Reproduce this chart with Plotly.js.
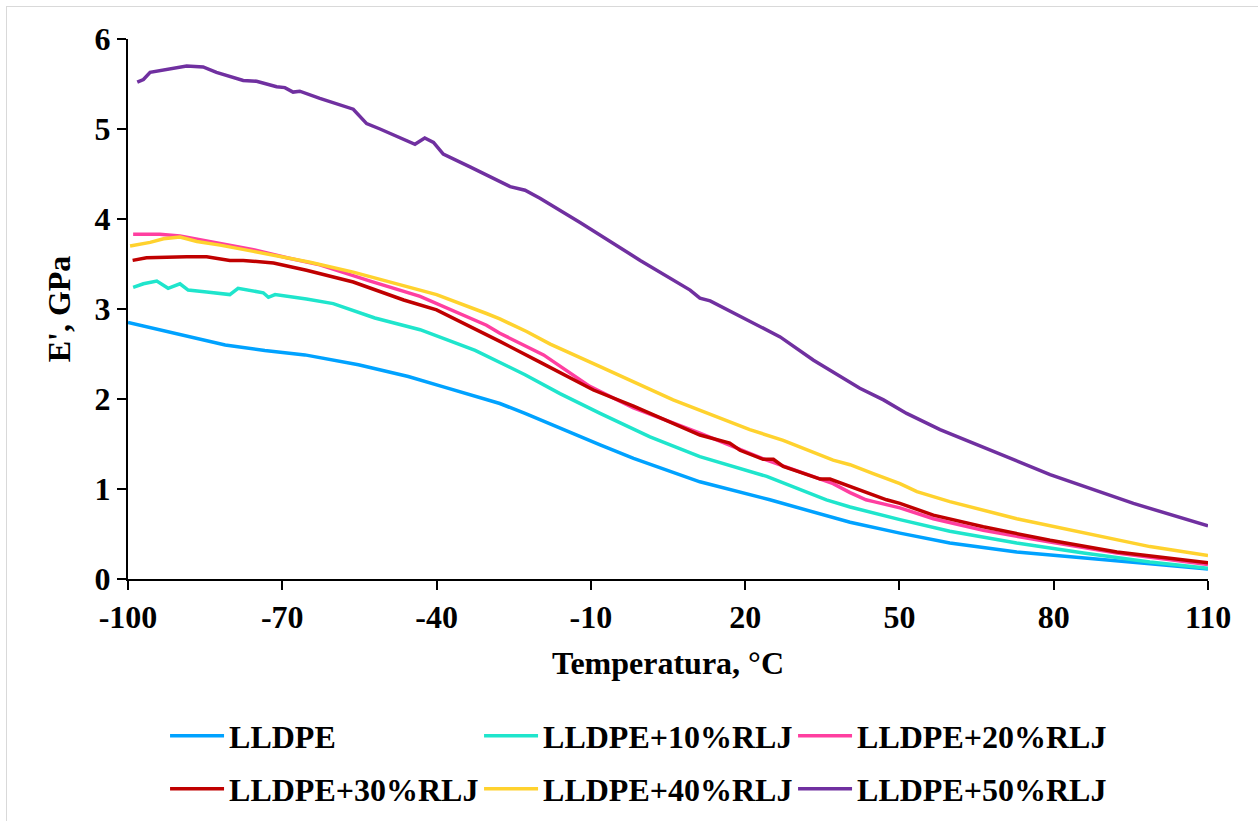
<!DOCTYPE html>
<html>
<head>
<meta charset="utf-8">
<script src="https://cdn.plot.ly/plotly-3.0.1.min.js"></script>
<style>
html,body{margin:0;padding:0;background:#fff;overflow:hidden;}
#chart{width:1258px;height:821px;}
#frame{position:absolute;left:6px;top:6px;width:1300px;height:900px;border:1.5px solid #d9d9d9;pointer-events:none;}
</style>
</head>
<body>
<div id="chart"></div>
<div id="frame"></div>
<script>
// ---- data ----
const seriesNames = ["LLDPE","LLDPE+10%RLJ","LLDPE+20%RLJ","LLDPE+30%RLJ","LLDPE+40%RLJ","LLDPE+50%RLJ"];

const x0 = [-100,-94.1,-88.9,-81.1,-73.4,-65.6,-55.2,-45.5,-39,-32.5,-27.7,-22.8,-14.7,-8.2,-1.7,11.2,24.8,40.4,50.1,59.8,72.8,85.8,98.7,110];
const y0 = [2.85,2.77,2.70,2.60,2.54,2.49,2.38,2.25,2.14,2.03,1.95,1.84,1.64,1.49,1.34,1.08,0.88,0.63,0.51,0.40,0.30,0.23,0.17,0.11];

const x10 = [-99,-97,-94.4,-92.2,-89.9,-88.3,-84.7,-80.2,-78.6,-73.7,-72.7,-71.4,-65.3,-60.1,-52,-43.2,-32.5,-22.8,-16,-8.2,1.5,11.2,24.2,35.8,40.4,50.1,59.8,72.8,85.8,98.7,110];
const y10 = [3.24,3.28,3.31,3.23,3.28,3.21,3.19,3.16,3.23,3.18,3.13,3.16,3.11,3.06,2.90,2.77,2.54,2.27,2.06,1.84,1.58,1.36,1.14,0.88,0.80,0.66,0.53,0.40,0.29,0.19,0.12];

const x20 = [-99,-93.8,-89.9,-84.1,-75.6,-69.1,-62.7,-52.9,-43.2,-30.3,-27.7,-19.2,-10.2,-1.7,11.2,24.2,37.1,40.4,42.3,43.5,45,50.1,56.6,66.3,79.3,92.3,110];
const y20 = [3.83,3.83,3.81,3.75,3.66,3.57,3.49,3.31,3.14,2.82,2.73,2.49,2.14,1.90,1.62,1.32,1.06,0.96,0.91,0.88,0.86,0.79,0.67,0.54,0.41,0.29,0.16];

const x30 = [-99.1,-96.4,-88.6,-84.7,-80.2,-77.6,-71.7,-65.3,-56.2,-46.4,-40,-32.2,-27.7,-19.9,-9.5,-1.7,11.2,17,19,23.5,25.5,27.4,34.6,36.5,40.4,47.5,50.1,56.6,66.3,79.3,92.3,110];
const y30 = [3.54,3.57,3.58,3.58,3.54,3.54,3.51,3.43,3.30,3.10,2.99,2.77,2.64,2.41,2.10,1.92,1.60,1.51,1.43,1.33,1.33,1.25,1.11,1.11,1.03,0.88,0.84,0.71,0.58,0.43,0.30,0.18];

const x40 = [-99.6,-95.7,-93.1,-89.9,-86.6,-82.1,-75.6,-64.6,-56.2,-49.7,-40,-30.3,-27.7,-22.5,-17.9,-8.2,6,20.9,27.4,37.1,40.4,44.9,50.1,53.4,59.8,72.8,85.8,98.7,110];
const y40 = [3.70,3.74,3.78,3.80,3.75,3.71,3.64,3.52,3.41,3.31,3.16,2.95,2.89,2.75,2.61,2.36,1.99,1.66,1.54,1.32,1.27,1.17,1.06,0.97,0.86,0.67,0.51,0.36,0.26];

const x50 = [-98.2,-97,-95.7,-88.6,-85.4,-82.8,-77.6,-75,-71.1,-69.5,-67.9,-66.6,-62.7,-56.2,-53.6,-51,-44.2,-42.3,-40.6,-38.7,-33.5,-25.7,-22.8,-19.9,-12.1,-0.4,9.3,11.2,13.2,20.9,26.8,33.3,42.3,46.9,51.4,57.9,64.4,73.4,79.3,95.5,110];
const y50 = [5.52,5.55,5.63,5.70,5.69,5.63,5.54,5.53,5.47,5.46,5.41,5.42,5.34,5.22,5.06,5.00,4.83,4.90,4.85,4.72,4.58,4.36,4.32,4.23,3.96,3.54,3.21,3.12,3.09,2.86,2.69,2.43,2.12,1.99,1.84,1.66,1.51,1.30,1.16,0.84,0.59];

const xTicks = [-100,-70,-40,-10,20,50,80,110];
const yTicks = [0,1,2,3,4,5,6];

// ---- styling ----
const colors = ["#00a2ff","#1fe5cc","#ff3fa0","#c00000","#ffd22e","#7030a0"];
const xs = [x0,x10,x20,x30,x40,x50];
const ys = [y0,y10,y20,y30,y40,y50];
const FONT = "'Liberation Serif','Times New Roman',serif";

const traces = seriesNames.map((n,i)=>({
  type:'scatter', mode:'lines', name:n, x:xs[i], y:ys[i],
  line:{color:colors[i], width:3.5, shape:'linear'},
  legend: i<3 ? 'legend' : 'legend2',
  hoverinfo:'skip'
}));

const legendCommon = {
  orientation:'h', xanchor:'left', yanchor:'middle',
  xref:'container', yref:'container',
  itemwidth:54,
  entrywidth:245, entrywidthmode:'pixels',
  font:{family:FONT, size:32, color:'#000', weight:'bold'},
  bgcolor:'rgba(0,0,0,0)', borderwidth:0, traceorder:'normal',
  itemclick:false, itemdoubleclick:false
};

const layout = {
  width:1258, height:821,
  margin:{l:128, r:50, t:39, b:242, pad:0},
  paper_bgcolor:'rgba(0,0,0,0)', plot_bgcolor:'#fff',
  font:{family:FONT, size:32, color:'#000', weight:'bold'},
  showlegend:true,
  xaxis:{
    range:[-100,110], tickvals:xTicks, ticktext:xTicks.map(String),
    showgrid:false, zeroline:false, showline:true, linecolor:'#000', linewidth:2,
    ticks:'outside', ticklen:9, tickwidth:2, tickcolor:'#000',
    tickfont:{family:FONT, size:32, color:'#000', weight:'bold'},
    title:{text:'Temperatura, °C', font:{family:FONT, size:32, color:'#000', weight:'bold'}, standoff:17},
    automargin:false, fixedrange:true
  },
  yaxis:{
    range:[0,6], tickvals:yTicks, ticktext:yTicks.map(String),
    showgrid:false, zeroline:false, showline:true, linecolor:'#000', linewidth:2,
    ticks:'outside', ticklen:9, tickwidth:2, tickcolor:'#000',
    tickfont:{family:FONT, size:32, color:'#000', weight:'bold'},
    title:{text:"E', GPa", font:{family:FONT, size:32, color:'#000', weight:'bold'}, standoff:14},
    automargin:false, fixedrange:true
  },
  legend: Object.assign({x:0.1312, y:0.1036}, legendCommon),
  legend2: Object.assign({x:0.1312, y:0.039}, legendCommon)
};

Plotly.newPlot('chart', traces, layout, {staticPlot:true, displayModeBar:false});
</script>
</body>
</html>
